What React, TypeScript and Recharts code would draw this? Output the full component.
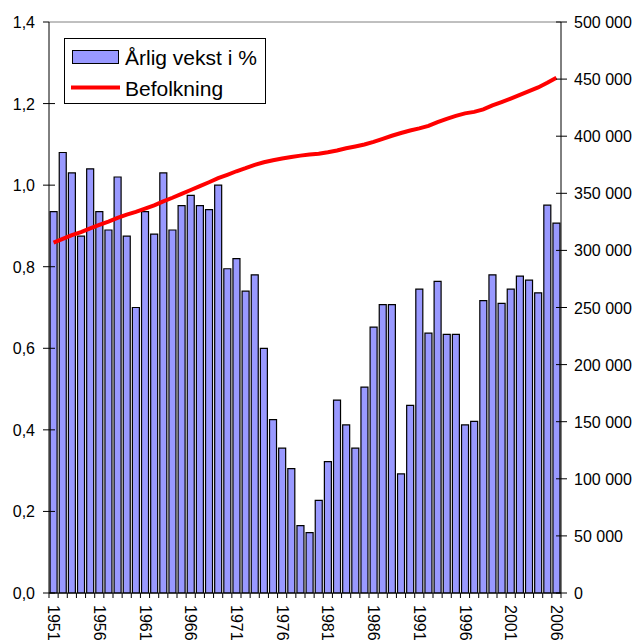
import { Bar, ComposedChart, Legend, Line, ReferenceLine, XAxis, YAxis } from 'recharts'

const years = [
  1951, 1952, 1953, 1954, 1955, 1956, 1957, 1958, 1959, 1960,
  1961, 1962, 1963, 1964, 1965, 1966, 1967, 1968, 1969, 1970,
  1971, 1972, 1973, 1974, 1975, 1976, 1977, 1978, 1979, 1980,
  1981, 1982, 1983, 1984, 1985, 1986, 1987, 1988, 1989, 1990,
  1991, 1992, 1993, 1994, 1995, 1996, 1997, 1998, 1999, 2000,
  2001, 2002, 2003, 2004, 2005, 2006,
]

// Årlig vekst i %
const growth = [
  0.935, 1.08, 1.03, 0.875, 1.04, 0.935, 0.89, 1.02, 0.875, 0.7,
  0.935, 0.88, 1.03, 0.89, 0.95, 0.975, 0.95, 0.94, 1.0, 0.795,
  0.82, 0.74, 0.78, 0.6, 0.425, 0.355, 0.305, 0.165, 0.148, 0.227,
  0.322, 0.473, 0.412, 0.355, 0.505, 0.652, 0.707, 0.707, 0.292, 0.46,
  0.745, 0.637, 0.764, 0.634, 0.634, 0.412, 0.421, 0.717, 0.78, 0.71,
  0.745, 0.777, 0.767, 0.736, 0.951, 0.907,
]

// Befolkning
const population = [
  306800, 310000, 313300, 316100, 319300, 322300, 325200, 328400, 331300, 333700,
  336500, 339500, 343000, 346100, 349500, 352900, 356300, 359700, 363300, 366200,
  369300, 372000, 374900, 377200, 379000, 380500, 381800, 383000, 384000, 384700,
  386000, 387500, 389400, 391000, 392700, 395000, 397700, 400400, 402800, 405000,
  406800, 409100, 412300, 415200, 417800, 420000, 421300, 423500, 426900, 429800,
  432900, 436200, 439500, 442700, 446800, 451200,
]

const leftTicks = [0, 0.2, 0.4, 0.6, 0.8, 1.0, 1.2, 1.4]
const rightTicks = [0, 50000, 100000, 150000, 200000, 250000, 300000, 350000, 400000, 450000, 500000]

const data = years.map((year, i) => ({ year, growth: growth[i], population: population[i] }))

const W = 637
const H = 642
const PLOT_LEFT = 49
const PLOT_RIGHT = 561
const PLOT_TOP = 22
const PLOT_BOTTOM = 593
const BAND = (PLOT_RIGHT - PLOT_LEFT) / years.length
const FONT = '"Liberation Sans", Arial, sans-serif'

function LeftTick({ y, payload }: any) {
  const top = payload.value >= 1.4
  return (
    <g>
      <line x1={PLOT_LEFT - 6} x2={top ? PLOT_LEFT : PLOT_LEFT + 6} y1={y} y2={y} stroke="#000" />
      <text x={PLOT_LEFT - 14} y={y} dy={6} textAnchor="end" fontSize={16} fontFamily={FONT} fill="#000">
        {payload.value.toFixed(1).replace('.', ',')}
      </text>
    </g>
  )
}

function RightTick({ y, payload }: any) {
  const label = payload.value === 0 ? '0' : `${payload.value / 1000} 000`
  return (
    <g>
      <line x1={PLOT_RIGHT - 5} x2={PLOT_RIGHT + 6} y1={y} y2={y} stroke="#000" />
      <text x={PLOT_RIGHT + 13} y={y} dy={6} textAnchor="start" fontSize={16} fontFamily={FONT} fill="#000">
        {label}
      </text>
    </g>
  )
}

function YearTick({ x, payload, index }: any) {
  const left = x - BAND / 2
  const showLabel = (payload.value - 1951) % 5 === 0
  return (
    <g>
      <line x1={left} x2={left} y1={PLOT_BOTTOM} y2={PLOT_BOTTOM + 5} stroke="#000" />
      {index === years.length - 1 && (
        <line x1={x + BAND / 2} x2={x + BAND / 2} y1={PLOT_BOTTOM} y2={PLOT_BOTTOM + 5} stroke="#000" />
      )}
      {showLabel && (
        <text
          x={x}
          y={PLOT_BOTTOM + 12}
          transform={`rotate(90, ${x}, ${PLOT_BOTTOM + 12})`}
          textAnchor="start"
          dominantBaseline="central"
          fontSize={16}
          fontFamily={FONT}
          fill="#000"
        >
          {payload.value}
        </text>
      )}
    </g>
  )
}

function LegendBox() {
  return (
    <svg width={202} height={66} style={{ display: 'block' }}>
      <rect x={0.5} y={0.5} width={201} height={65} fill="#fff" stroke="#000" />
      <rect x={8.5} y={12.5} width={46} height={13} fill="#9999FF" stroke="#000" />
      <text x={61} y={27} fontSize={21} fontFamily={FONT} fill="#000">Årlig vekst i %</text>
      <line x1={7} x2={56} y1={49.5} y2={49.5} stroke="#FF0000" strokeWidth={4} />
      <text x={61} y={58} fontSize={21} fontFamily={FONT} fill="#000">Befolkning</text>
    </svg>
  )
}

export default function App() {
  return (
    <div style={{ position: 'absolute', left: 0, top: 0, background: '#fff' }}>
      <ComposedChart
        width={W}
        height={H}
        data={data}
        margin={{ top: PLOT_TOP, right: 0, bottom: 0, left: 0 }}
        barCategoryGap="12%"
      >
        <XAxis
          dataKey="year"
          interval={0}
          height={H - PLOT_BOTTOM}
          tick={<YearTick />}
          tickLine={false}
          axisLine={{ stroke: '#000' }}
        />
        <YAxis
          yAxisId="left"
          orientation="left"
          width={PLOT_LEFT}
          domain={[0, 1.4]}
          ticks={leftTicks}
          tick={<LeftTick />}
          tickLine={false}
          axisLine={{ stroke: '#000' }}
        />
        <YAxis
          yAxisId="right"
          orientation="right"
          width={W - PLOT_RIGHT}
          domain={[0, 500000]}
          ticks={rightTicks}
          tick={<RightTick />}
          tickLine={false}
          axisLine={{ stroke: '#000' }}
        />
        <ReferenceLine yAxisId="left" y={1.4} stroke="#808080" />
        <Bar
          yAxisId="left"
          dataKey="growth"
          name="Årlig vekst i %"
          fill="#9999FF"
          stroke="#000"
          strokeWidth={1.2}
          isAnimationActive={false}
        />
        <Line
          yAxisId="right"
          dataKey="population"
          name="Befolkning"
          type="linear"
          stroke="#FF0000"
          strokeWidth={4}
          dot={false}
          isAnimationActive={false}
        />
        <Legend
          layout="vertical"
          align="center"
          verticalAlign="middle"
          content={<LegendBox />}
          wrapperStyle={{ left: 64, top: 38, width: 202, height: 66 }}
        />
      </ComposedChart>
    </div>
  )
}
